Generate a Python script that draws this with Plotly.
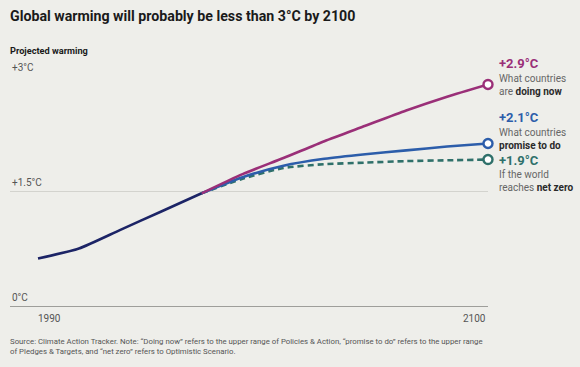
import plotly.graph_objects as go

# ---- data ----
hist_years = [1990, 2000, 2010, 2020, 2030]
hist_vals = [0.62, 0.75, 0.99, 1.23, 1.47]

proj_years = [2030, 2040, 2050, 2060, 2070, 2080, 2090, 2100]
doing_now = [1.47, 1.72, 1.93, 2.15, 2.35, 2.55, 2.73, 2.89]
promise = [1.47, 1.68, 1.83, 1.92, 1.98, 2.03, 2.08, 2.12]
net_zero = [1.47, 1.66, 1.80, 1.85, 1.87, 1.89, 1.90, 1.91]

y_ticks = [0, 1.5, 3]
y_tick_labels = ["0°C", "+1.5°C", "+3°C"]
x_labels = [1990, 2100]

end_labels = ["+2.9°C", "+2.1°C", "+1.9°C"]
end_desc = ["What countries<br>are <b style='color:#2a2a2a'>doing now</b>",
            "What countries<br><b style='color:#2a2a2a'>promise to do</b>",
            "If the world<br>reaches <b style='color:#2a2a2a'>net zero</b>"]

PURPLE = "#9A2F78"
BLUE = "#2C5DAA"
TEAL = "#2F706A"
NAVY = "#1C2466"
BG = "#EEEEEA"
FONT = "Roboto"

W, H = 580, 367
ML, MR, MT, MB = 10, 92, 76, 61
PW, PH = W - ML - MR, H - MT - MB

def px(xp):
    return (xp - ML) / PW

def py(yp):
    return (H - MB - yp) / PH

fig = go.Figure()

def line(x, y, color, dash="solid", marker=True):
    fig.add_trace(go.Scatter(
        x=x, y=y, mode="lines", line=dict(color=color, width=2.6, dash=dash, shape="spline", smoothing=0.6),
        hoverinfo="skip", showlegend=False, cliponaxis=False))
    if marker:
        fig.add_trace(go.Scatter(
            x=[x[-1]], y=[y[-1]], mode="markers",
            marker=dict(size=9, color="white", line=dict(color=color, width=2.4)),
            hoverinfo="skip", showlegend=False, cliponaxis=False))

line(proj_years, net_zero, TEAL, dash="6px,4px")
line(proj_years, promise, BLUE)
line(proj_years, doing_now, PURPLE)
line(hist_years, hist_vals, NAVY, marker=False)

annotations = []
for v, t in zip(y_ticks, y_tick_labels):
    annotations.append(dict(x=0, xref="paper", y=v, yref="y", text=t, showarrow=False,
                            xanchor="left", yanchor="bottom", yshift=1,
                            font=dict(family=FONT, size=10, color="#555555")))
annotations.append(dict(x=x_labels[0], xref="x", y=0, yref="y", text=str(x_labels[0]), showarrow=False,
                        xanchor="left", yanchor="top", yshift=-5, xshift=-2,
                        font=dict(family=FONT, size=10, color="#555555")))
annotations.append(dict(x=x_labels[1], xref="x", y=0, yref="y", text=str(x_labels[1]), showarrow=False,
                        xanchor="right", yanchor="top", yshift=-5,
                        font=dict(family=FONT, size=10, color="#555555")))

colors = [PURPLE, BLUE, TEAL]
val_py = [63, 118, 160]
desc_py = [71, 125, 167]
for lab, desc, c, vp, dp in zip(end_labels, end_desc, colors, val_py, desc_py):
    annotations.append(dict(x=px(497), xref="paper", y=py(vp), yref="paper", text=f"<b>{lab}</b>",
                            showarrow=False, xanchor="left", yanchor="middle",
                            font=dict(family=FONT, size=13, color=c)))
    annotations.append(dict(x=px(497), xref="paper", y=py(dp), yref="paper", text=desc,
                            showarrow=False, xanchor="left", yanchor="top", align="left",
                            font=dict(family=FONT, size=10, color="#666666")))

annotations.append(dict(x=px(8), y=py(16), xref="paper", yref="paper",
                        text="<b>Global warming will probably be less than 3°C by 2100</b>",
                        showarrow=False, xanchor="left", yanchor="middle",
                        font=dict(family=FONT, size=14.2, color="#1a1a1a")))
annotations.append(dict(x=px(8), y=py(50), xref="paper", yref="paper", text="<b>Projected warming</b>",
                        showarrow=False, xanchor="left", yanchor="middle",
                        font=dict(family=FONT, size=9.2, color="#1a1a1a")))
annotations.append(dict(x=px(8), y=py(335), xref="paper", yref="paper",
                        text="Source: Climate Action Tracker. Note: “Doing now” refers to the upper range of Policies & Action, “promise to do” refers to the upper range<br>of Pledges & Targets, and “net zero” refers to Optimistic Scenario.",
                        showarrow=False, xanchor="left", yanchor="top", align="left",
                        font=dict(family=FONT, size=7.8, color="#555555")))

fig.update_layout(
    width=W, height=H,
    margin=dict(l=ML, r=MR, t=MT, b=MB),
    paper_bgcolor=BG, plot_bgcolor=BG,
    xaxis=dict(range=[1990 - 28 / 4.0909, 2100], showgrid=False, zeroline=False,
               showticklabels=False, ticks="", fixedrange=True),
    yaxis=dict(range=[0, 3], tickvals=y_ticks, showticklabels=False, showgrid=True,
               gridcolor="#D3D3CE", gridwidth=1, zeroline=True, zerolinecolor="#9E9E9A",
               zerolinewidth=1, ticks="", fixedrange=True),
    annotations=annotations,
    font=dict(family=FONT),
)

fig.write_html("out.html", config={"displayModeBar": False},
               post_script="document.body.style.margin='0';document.body.style.background='#EEEEEA';")
